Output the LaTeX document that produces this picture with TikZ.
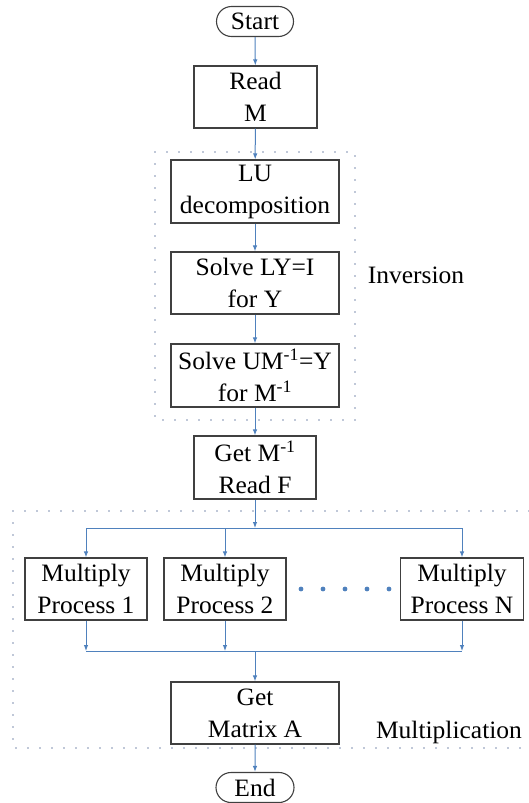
\documentclass[tikz,border=0pt]{standalone}
\usepackage{fontspec}
\setmainfont{Liberation Serif}[FakeStretch=1.02]
\usetikzlibrary{arrows.meta,shapes.misc}
\definecolor{arrowblue}{HTML}{4F81BD}
\definecolor{dotgray}{HTML}{7F8FB0}
\definecolor{boxgray}{HTML}{404040}
\begin{document}
\begin{tikzpicture}[x=1pt,y=-1pt,
  every node/.style={font=\fontsize{25}{32}\selectfont, align=center, inner sep=0pt},
  procbox/.style={draw=boxgray, line width=1.1pt, rectangle, minimum height=62pt},
  termbox/.style={draw=boxgray, line width=1.1pt, rounded rectangle, minimum width=77pt, minimum height=30pt},
  flow/.style={draw=arrowblue, line width=1pt, -{Latex[length=6pt,width=4.5pt]}},
  flowline/.style={draw=arrowblue, line width=1pt},
  groupbox/.style={draw=dotgray, line width=1.8pt, line cap=round, dash pattern=on 0pt off 12pt}
]
\useasboundingbox (0,0) rectangle (529,803);

% group frames
\draw[groupbox] (155,152) rectangle (355,420);
\draw[groupbox] (529,511) -- (13,511) -- (13,748) -- (529,748);
\node (invlabel) at (416,275) {Inversion};
\node (mullabel) at (449,732) {Multiplication};

% nodes
\node[termbox] (start) at (255,21.5) {Start};
\node[procbox, minimum width=123pt] (readm) at (255.5,97) {Read\\M};
\node[procbox, minimum width=168pt, minimum height=63pt] (lu) at (255,191.5) {LU\\decomposition};
\node[procbox, minimum width=168pt] (ly) at (255,283) {Solve LY=I\\for Y};
\node[procbox, minimum width=168pt, minimum height=63pt] (um) at (255,375.5) {Solve UM\textsuperscript{-1}=Y\\for M\textsuperscript{-1}};
\node[procbox, minimum width=122pt, minimum height=63pt] (getm) at (255,467.5) {Get M\textsuperscript{-1}\\Read F};
\node[procbox, minimum width=122pt] (mp1) at (86,589) {Multiply\\Process 1};
\node[procbox, minimum width=122pt] (mp2) at (225,589) {Multiply\\Process 2};
\node[procbox, minimum width=123pt] (mpn) at (462,589) {Multiply\\Process N};
\node[procbox, minimum width=168pt] (geta) at (255,713) {Get\\Matrix A};
\node[termbox, minimum width=78pt] (end) at (255,787.5) {End};

% ellipsis dots
\foreach \xx in {301,323,345,367,389}
  \fill[arrowblue] (\xx,589) circle (2.4pt);

% junction coordinates
\coordinate (split) at (255,528);
\coordinate (splitl) at (86,528);
\coordinate (splitm) at (225,528);
\coordinate (splitr) at (462,528);
\coordinate (mergel) at (86,651);
\coordinate (mergem) at (225,651);
\coordinate (merger) at (462,651);
\coordinate (merge) at (255,651);

% connectors
\draw[flow] (start) -- (readm);
\draw[flow] (readm) -- (lu);
\draw[flow] (lu) -- (ly);
\draw[flow] (ly) -- (um);
\draw[flow] (um) -- (getm);
\draw[flow] (getm) -- (split);
\draw[flowline] (splitl) -- (splitr);
\draw[flow] (splitl) -- (mp1);
\draw[flow] (splitm) -- (mp2);
\draw[flow] (splitr) -- (mpn);
\draw[flow] (mp1) -- (mergel);
\draw[flow] (mp2) -- (mergem);
\draw[flow] (mpn) -- (merger);
\draw[flowline] (mergel) -- (merger);
\draw[flow] (merge) -- (geta);
\draw[flow] (geta) -- (end);
\end{tikzpicture}
\end{document}
